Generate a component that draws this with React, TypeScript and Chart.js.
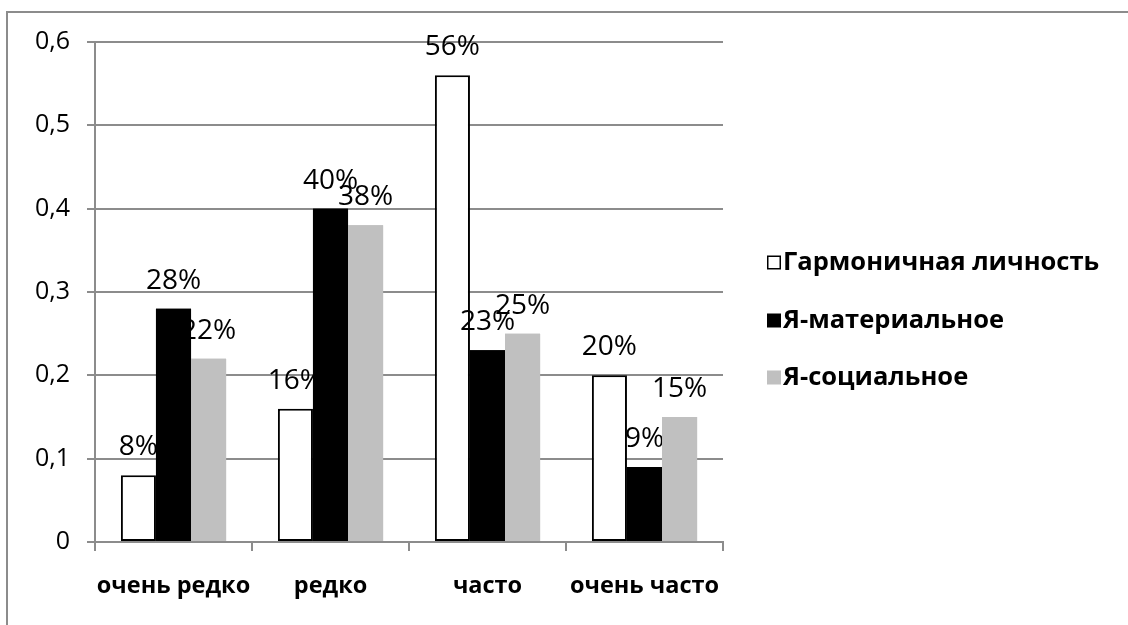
import React, { useEffect, useRef } from 'react';
import { Chart, registerables } from 'chart.js';

Chart.register(...registerables);

const categories = ['очень редко', 'редко', 'часто', 'очень часто'];
const seriesNames = ['Гармоничная личность', 'Я-материальное', 'Я-социальное'];
const harmonious = [0.08, 0.16, 0.56, 0.2];
const material = [0.28, 0.4, 0.23, 0.09];
const social = [0.22, 0.38, 0.25, 0.15];
const yMin = 0;
const yMax = 0.6;
const yStep = 0.1;

const FONT = "'Open Sans', 'Noto Sans', sans-serif";
const GRID = '#8c8c8c';
const fills = ['#ffffff', '#000000', '#c0c0c0'];
const borders = ['#000000', '#000000', '#c0c0c0'];

const frame = {
  id: 'frame',
  beforeDraw(chart: any) {
    const ctx = chart.ctx;
    ctx.save();
    ctx.fillStyle = '#ffffff';
    ctx.fillRect(0, 0, chart.width, chart.height);
    ctx.strokeStyle = GRID;
    ctx.lineWidth = 2;
    ctx.beginPath();
    ctx.moveTo(chart.width + 2, 12);
    ctx.lineTo(7, 12);
    ctx.lineTo(7, chart.height + 2);
    ctx.stroke();
    ctx.restore();
  },
};

const valueLabels = {
  id: 'valueLabels',
  afterDatasetsDraw(chart: any) {
    const ctx = chart.ctx;
    ctx.save();
    ctx.font = `28px ${FONT}`;
    ctx.fillStyle = '#000000';
    ctx.textAlign = 'center';
    ctx.textBaseline = 'alphabetic';
    chart.data.datasets.forEach((ds: any, di: number) => {
      const meta = chart.getDatasetMeta(di);
      meta.data.forEach((el: any, i: number) => {
        const v = ds.data[i] as number;
        ctx.fillText(`${Math.round(v * 100)}%`, el.x, el.y - 20);
      });
    });
    // bars of the filled series sit over the labels, as in the original
    const area = chart.chartArea;
    ctx.beginPath();
    ctx.rect(area.left, area.top - 40, area.right - area.left, area.bottom - area.top + 40);
    ctx.clip();
    [1, 2].forEach((di) => {
      chart.getDatasetMeta(di).data.forEach((el: any) => el.draw(ctx));
    });
    ctx.restore();
  },
};

const sideLegend = {
  id: 'sideLegend',
  afterDraw(chart: any) {
    const ctx = chart.ctx;
    ctx.save();
    ctx.font = `bold 25.5px ${FONT}`;
    ctx.textBaseline = 'middle';
    ctx.textAlign = 'left';
    const x0 = 767;
    const rows = [262, 320, 377];
    chart.data.datasets.forEach((ds: any, i: number) => {
      const y = rows[i];
      ctx.fillStyle = ds.backgroundColor;
      ctx.fillRect(x0, y - 6.5, 14, 14);
      if (i === 0) {
        ctx.strokeStyle = '#000000';
        ctx.lineWidth = 1.5;
        ctx.strokeRect(x0 + 0.75, y - 5.75, 12.5, 12.5);
      }
      ctx.fillStyle = '#000000';
      ctx.fillText(ds.label, x0 + 16, y + 1);
    });
    ctx.restore();
  },
};

export default function App() {
  const ref = useRef<HTMLCanvasElement | null>(null);

  useEffect(() => {
    if (!ref.current) return;
    const series = [harmonious, material, social];
    const chart = new Chart(ref.current, {
      type: 'bar',
      data: {
        labels: categories,
        datasets: series.map((d, i) => ({
          label: seriesNames[i],
          data: d,
          backgroundColor: fills[i],
          borderColor: borders[i],
          borderWidth: i === 0 ? 2 : 0,
          borderSkipped: false,
          categoryPercentage: 0.67,
          barPercentage: 1,
        })),
      },
      options: {
        animation: false,
        responsive: true,
        maintainAspectRatio: false,
        devicePixelRatio: 1,
        layout: { padding: { left: 0, top: 42, right: 405, bottom: 0 } },
        plugins: {
          legend: { display: false },
          tooltip: { enabled: false },
        },
        scales: {
          x: {
            offset: true,
            grid: {
              offset: true,
              drawOnChartArea: false,
              drawTicks: true,
              tickLength: 9,
              color: GRID,
              lineWidth: 2,
            },
            border: { display: true, color: GRID, width: 2 },
            ticks: {
              color: '#000000',
              font: { family: FONT, size: 23.5, weight: 'bold' },
              padding: 21,
              maxRotation: 0,
              autoSkip: false,
            },
            afterFit(scale: any) {
              scale.height = 83;
            },
          },
          y: {
            min: yMin,
            max: yMax,
            grid: {
              color: GRID,
              lineWidth: 2,
              tickLength: 8,
              drawTicks: true,
            },
            border: { display: true, color: GRID, width: 2 },
            ticks: {
              stepSize: yStep,
              color: '#000000',
              font: { family: FONT, size: 25 },
              padding: 17,
              callback: (v: any) => {
                const n = Number(v);
                return n === 0 ? '0' : n.toFixed(1).replace('.', ',');
              },
            },
            afterFit(scale: any) {
              scale.width = 95;
            },
          },
        },
      },
      plugins: [frame, valueLabels, sideLegend],
    });
    return () => chart.destroy();
  }, []);

  return (
    <div style={{ position: 'absolute', left: 0, top: 0, width: 1128, height: 625 }}>
      <canvas ref={ref} />
    </div>
  );
}
